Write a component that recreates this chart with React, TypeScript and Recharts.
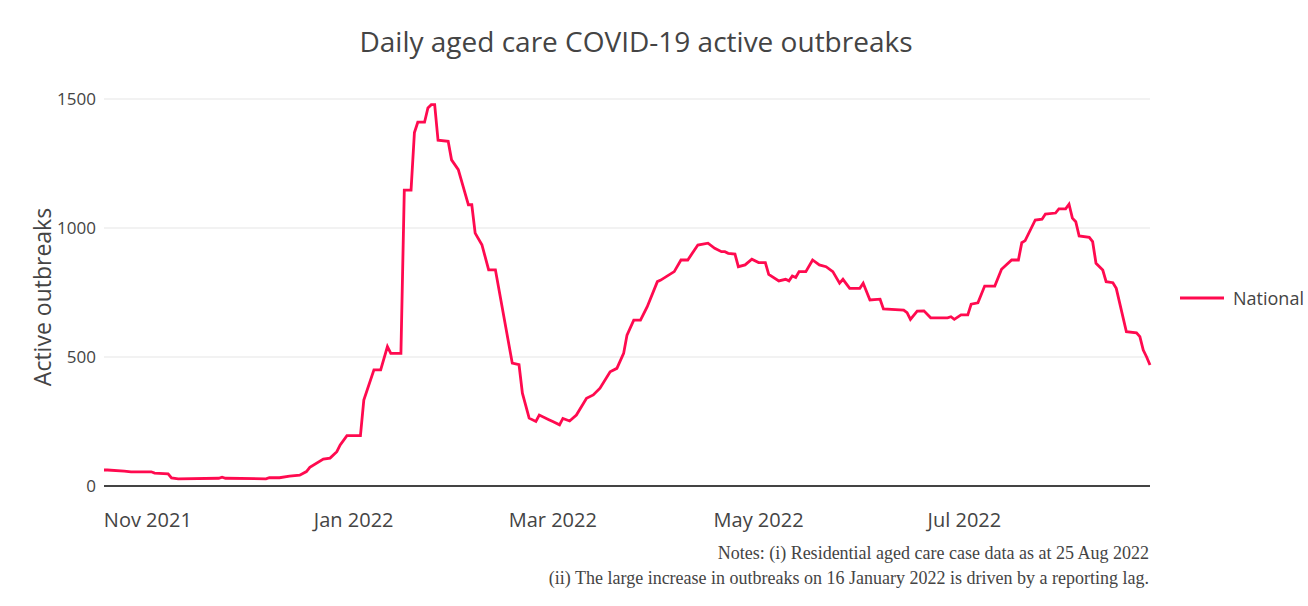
import React from 'react';
import { LineChart, Line, XAxis, YAxis, CartesianGrid } from 'recharts';

// values (residential aged care, national)
const dates = [
  '2021-10-19', '2021-10-20', '2021-10-25', '2021-10-27', '2021-11-02', '2021-11-03', '2021-11-07', '2021-11-08',
  '2021-11-10', '2021-11-22', '2021-11-23', '2021-11-24', '2021-12-06', '2021-12-07', '2021-12-10', '2021-12-13',
  '2021-12-16', '2021-12-18', '2021-12-19', '2021-12-23', '2021-12-25', '2021-12-27', '2021-12-28', '2021-12-30',
  '2022-01-03', '2022-01-04', '2022-01-07', '2022-01-09', '2022-01-11', '2022-01-12', '2022-01-15', '2022-01-16',
  '2022-01-18', '2022-01-19', '2022-01-20', '2022-01-22', '2022-01-23', '2022-01-24', '2022-01-25', '2022-01-26',
  '2022-01-29', '2022-01-30', '2022-02-01', '2022-02-04', '2022-02-05', '2022-02-06', '2022-02-08', '2022-02-10',
  '2022-02-12', '2022-02-17', '2022-02-19', '2022-02-20', '2022-02-22', '2022-02-24', '2022-02-25', '2022-02-28',
  '2022-03-01', '2022-03-03', '2022-03-04', '2022-03-06', '2022-03-08', '2022-03-11', '2022-03-13', '2022-03-15',
  '2022-03-18', '2022-03-20', '2022-03-22', '2022-03-23', '2022-03-25', '2022-03-27', '2022-03-29', '2022-04-01',
  '2022-04-02', '2022-04-06', '2022-04-08', '2022-04-10', '2022-04-13', '2022-04-16', '2022-04-18', '2022-04-20',
  '2022-04-21', '2022-04-22', '2022-04-24', '2022-04-25', '2022-04-27', '2022-04-29', '2022-05-01', '2022-05-03',
  '2022-05-04', '2022-05-07', '2022-05-09', '2022-05-10', '2022-05-11', '2022-05-12', '2022-05-13', '2022-05-15',
  '2022-05-17', '2022-05-19', '2022-05-21', '2022-05-23', '2022-05-25', '2022-05-26', '2022-05-28', '2022-05-31',
  '2022-06-01', '2022-06-03', '2022-06-06', '2022-06-07', '2022-06-13', '2022-06-14', '2022-06-15', '2022-06-17',
  '2022-06-19', '2022-06-21', '2022-06-26', '2022-06-27', '2022-06-28', '2022-06-30', '2022-07-02', '2022-07-03',
  '2022-07-05', '2022-07-07', '2022-07-10', '2022-07-12', '2022-07-15', '2022-07-17', '2022-07-18', '2022-07-19',
  '2022-07-22', '2022-07-24', '2022-07-25', '2022-07-28', '2022-07-29', '2022-07-31', '2022-08-01', '2022-08-02',
  '2022-08-03', '2022-08-04', '2022-08-07', '2022-08-08', '2022-08-09', '2022-08-11', '2022-08-12', '2022-08-14',
  '2022-08-15', '2022-08-18', '2022-08-21', '2022-08-22', '2022-08-23', '2022-08-24', '2022-08-25',
];

const national = [
  62, 62, 58, 55, 55, 50, 47, 31,
  28, 30, 34, 30, 28, 32, 32, 38,
  42, 56, 72, 104, 108, 133, 159, 195,
  195, 333, 450, 450, 540, 514, 514, 1147,
  1147, 1370, 1410, 1410, 1465, 1478, 1478, 1340,
  1336, 1264, 1226, 1090, 1090, 980, 935, 838,
  838, 476, 470, 360, 263, 250, 275, 256,
  250, 237, 262, 252, 275, 340, 353, 379,
  443, 456, 514, 585, 643, 643, 695, 792,
  798, 831, 876, 876, 934, 941, 921, 908,
  908, 902, 899, 850, 857, 879, 866, 866,
  820, 795, 801, 795, 814, 808, 831, 831,
  876, 857, 850, 831, 786, 801, 766, 766,
  786, 721, 724, 686, 682, 672, 646, 678,
  679, 652, 652, 656, 646, 663, 663, 705,
  710, 775, 775, 840, 876, 876, 943, 951,
  1031, 1034, 1054, 1058, 1074, 1074, 1092, 1038,
  1024, 969, 964, 947, 863, 837, 792, 788,
  766, 598, 594, 579, 527, 500, 469,
];

const xTicks = ['2021-11-01', '2022-01-01', '2022-03-01', '2022-05-01', '2022-07-01'];
const yTicks = [0, 500, 1000, 1500];
const MONTHS = ['Jan', 'Feb', 'Mar', 'Apr', 'May', 'Jun', 'Jul', 'Aug', 'Sep', 'Oct', 'Nov', 'Dec'];

const toTime = (d: string) => new Date(d + 'T00:00:00Z').getTime();
const fmtMonth = (t: number) => {
  const d = new Date(t);
  return `${MONTHS[d.getUTCMonth()]} ${d.getUTCFullYear()}`;
};

const data = dates.map((d, i) => ({ t: toTime(d), National: national[i] }));

const LINE = '#ff0a4f';
const FONT = '"Open Sans", verdana, arial, sans-serif';

export default function App() {
  return (
    <div style={{ position: 'absolute', left: 0, top: 0, width: 1308, height: 606, background: '#fff' }}>
      <div
        style={{
          position: 'absolute', left: 0, width: 1272, top: 27, textAlign: 'center',
          fontFamily: FONT, fontSize: 28, lineHeight: '28px', color: '#444',
        }}
      >
        Daily aged care COVID-19 active outbreaks
      </div>
      <div
        style={{
          position: 'absolute', left: 42, top: 297, transform: 'translate(-50%, -50%) rotate(-90deg)',
          whiteSpace: 'nowrap', fontFamily: FONT, fontSize: 23, lineHeight: '23px', color: '#444',
        }}
      >
        Active outbreaks
      </div>
      <LineChart
        width={1308}
        height={606}
        data={data}
        margin={{ top: 83.5, right: 158, bottom: 60, left: 44 }}
      >
        <CartesianGrid vertical={false} horizontalValues={yTicks} stroke="#eeeeee" strokeWidth={1.5} />
        <XAxis
          dataKey="t"
          type="number"
          scale="time"
          domain={[toTime('2021-10-19'), toTime('2022-08-25')]}
          ticks={xTicks.map(toTime)}
          tickFormatter={fmtMonth}
          height={60}
          tickSize={0}
          tickMargin={27}
          axisLine={{ stroke: '#444', strokeWidth: 2 }}
          tick={{ fill: '#444', fontSize: 20, fontFamily: FONT }}
        />
        <YAxis
          domain={[0, 1560]}
          ticks={yTicks}
          width={60}
          tickSize={0}
          tickMargin={8}
          axisLine={false}
          tick={{ fill: '#444', fontSize: 17, fontFamily: FONT }}
        />
        <Line
          type="linear"
          dataKey="National"
          stroke={LINE}
          strokeWidth={2.8}
          dot={false}
          activeDot={false}
          isAnimationActive={false}
        />
      </LineChart>
      <div
        style={{
          position: 'absolute', left: 1178, top: 286, display: 'flex', alignItems: 'center',
          fontFamily: FONT, fontSize: 18, lineHeight: '24px', color: '#444', whiteSpace: 'nowrap',
        }}
      >
        <svg width={48} height={10}>
          <line x1={2} y1={5} x2={46} y2={5} stroke={LINE} strokeWidth={3} />
        </svg>
        <span style={{ marginLeft: 7 }}>National</span>
      </div>
      <div
        style={{
          position: 'absolute', right: 1308 - 1149, top: 541, textAlign: 'right', whiteSpace: 'nowrap',
          fontFamily: '"Liberation Serif", "Times New Roman", serif', fontSize: 18, lineHeight: '25px', color: '#444',
        }}
      >
        Notes: (i) Residential aged care case data as at 25 Aug 2022
        <br />
        (ii) The large increase in outbreaks on 16 January 2022 is driven by a reporting lag.
      </div>
    </div>
  );
}
